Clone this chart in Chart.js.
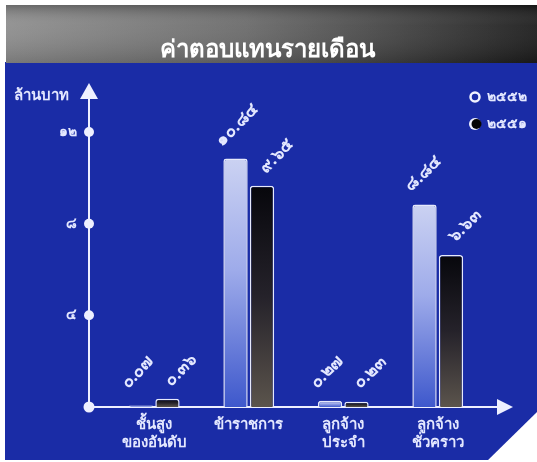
<!DOCTYPE html>
<html lang="th">
<head>
<meta charset="utf-8">
<title>ค่าตอบแทนรายเดือน</title>
<script src="https://cdn.jsdelivr.net/npm/chart.js@4.4.1/dist/chart.umd.min.js"></script>
<style>
  html, body { margin: 0; padding: 0; background: #fff; }
  #wrap { width: 537px; height: 462px; }
</style>
</head>
<body>
<div id="wrap"><canvas id="chart" width="537" height="462"></canvas></div>
<script>
// ========== data ==========
const TITLE = "ค่าตอบแทนรายเดือน";
const UNIT_LABEL = "ล้านบาท";
const CATEGORIES = [["ชั้นสูง", "ของอันดับ"], ["ข้าราชการ"], ["ลูกจ้าง", "ประจำ"], ["ลูกจ้าง", "ชั่วคราว"]];
const YEARS = ["๒๕๕๒", "๒๕๕๑"];
const VALUES_2552 = [0.07, 10.84, 0.27, 8.84];
const VALUES_2551 = [0.36, 9.65, 0.23, 6.63];
const Y_TICKS = [0, 4, 8, 12];
const Y_MAX = 12;

// ========== helpers ==========
const FONT = "'Noto Sans', 'DejaVu Sans', sans-serif";
const TEXT_COLOR = "#e4e8ff";
const BLUE_BG = "#1a2ca6";
const THAI_DIGITS = "๐๑๒๓๔๕๖๗๘๙";
const thaiNum = (s) => String(s).replace(/[0-9]/g, (d) => THAI_DIGITS[d]);

function barFill(stops) {
  return (c) => {
    const chart = c.chart;
    if (!chart.chartArea || c.raw == null) return stops[0][1];
    const y = chart.scales.y;
    const top = y.getPixelForValue(c.raw);
    const bottom = y.getPixelForValue(0);
    const g = chart.ctx.createLinearGradient(0, top, 0, Math.max(bottom, top + 1));
    stops.forEach(([p, col]) => g.addColorStop(p, col));
    return g;
  };
}

// ========== plugins ==========
const backdrop = {
  id: "backdrop",
  beforeDraw(chart) {
    const { ctx, width, height } = chart;
    ctx.save();
    ctx.fillStyle = "#fff";
    ctx.fillRect(0, 0, width, height);
    // blue panel
    ctx.fillStyle = BLUE_BG;
    ctx.fillRect(5, 62, width - 5, 398);
    // gray header band
    const gh = ctx.createLinearGradient(5, 0, width, 0);
    gh.addColorStop(0, "#8e8e8e");
    gh.addColorStop(0.45, "#6a6a6a");
    gh.addColorStop(1, "#1c1c1c");
    ctx.fillStyle = gh;
    ctx.fillRect(6, 5, width - 6, 58);
    const gv = ctx.createLinearGradient(0, 5, 0, 63);
    gv.addColorStop(0, "rgba(0,0,0,0.25)");
    gv.addColorStop(0.35, "rgba(255,255,255,0.06)");
    gv.addColorStop(1, "rgba(0,0,0,0.15)");
    ctx.fillStyle = gv;
    ctx.fillRect(6, 5, width - 6, 58);
    // white corner cut
    ctx.fillStyle = "#fff";
    ctx.beginPath();
    ctx.moveTo(486, height);
    ctx.lineTo(width, 412);
    ctx.lineTo(width, height);
    ctx.closePath();
    ctx.fill();
    // title
    ctx.fillStyle = "#fff";
    ctx.font = "600 24px " + FONT;
    ctx.textAlign = "center";
    ctx.textBaseline = "middle";
    ctx.fillText(TITLE, 267, 50);
    // unit label
    ctx.fillStyle = TEXT_COLOR;
    ctx.font = "bold 15px " + FONT;
    ctx.textAlign = "left";
    ctx.fillText(UNIT_LABEL, 14, 96);
    ctx.restore();
  },
};

const axes = {
  id: "axes",
  beforeDatasetsDraw(chart) {
    const { ctx, scales } = chart;
    const x0 = 89;
    const y0 = scales.y.getPixelForValue(0);
    ctx.save();
    ctx.strokeStyle = "#eef0ff";
    ctx.fillStyle = "#eef0ff";
    ctx.lineWidth = 2;
    ctx.beginPath();
    ctx.moveTo(x0, y0);
    ctx.lineTo(x0, 96);
    ctx.moveTo(x0, y0);
    ctx.lineTo(498, y0);
    ctx.stroke();
    // arrow heads
    ctx.beginPath();
    ctx.moveTo(x0, 83);
    ctx.lineTo(x0 - 9, 99);
    ctx.lineTo(x0 + 9, 99);
    ctx.closePath();
    ctx.fill();
    ctx.beginPath();
    ctx.moveTo(513, y0);
    ctx.lineTo(497, y0 - 8);
    ctx.lineTo(497, y0 + 8);
    ctx.closePath();
    ctx.fill();
    // tick dots
    Y_TICKS.forEach((v) => {
      ctx.beginPath();
      ctx.arc(x0, scales.y.getPixelForValue(v), v === 0 ? 5.5 : 5, 0, Math.PI * 2);
      ctx.fill();
    });
    ctx.restore();
  },
};

const valueLabels = {
  id: "valueLabels",
  afterDatasetsDraw(chart) {
    const { ctx } = chart;
    ctx.save();
    ctx.fillStyle = TEXT_COLOR;
    ctx.font = "bold 17px " + FONT;
    ctx.textAlign = "left";
    ctx.textBaseline = "alphabetic";
    chart.data.datasets.forEach((ds, i) => {
      chart.getDatasetMeta(i).data.forEach((bar, j) => {
        const left = bar.x - bar.width / 2 + (i === 0 ? -1 : 16);
        const y = Math.min(bar.y, bar.base - 6) - 12;
        ctx.save();
        ctx.translate(left, y);
        ctx.rotate(-Math.PI / 4);
        ctx.fillText(thaiNum(ds.data[j].toFixed(2)), 0, 0);
        ctx.restore();
      });
    });
    ctx.restore();
  },
};

const yearLegend = {
  id: "yearLegend",
  afterDraw(chart) {
    const { ctx } = chart;
    ctx.save();
    ctx.font = "bold 14px " + FONT;
    ctx.textBaseline = "middle";
    ctx.textAlign = "left";
    chart.data.datasets.forEach((ds, i) => {
      const cy = 97 + i * 27;
      const cx = 475;
      if (i === 0) {
        ctx.strokeStyle = "#f0f2ff";
        ctx.lineWidth = 2.5;
        ctx.beginPath();
        ctx.arc(cx, cy, 4.5, 0, Math.PI * 2);
        ctx.stroke();
      } else {
        ctx.fillStyle = "#f0f2ff";
        ctx.beginPath();
        ctx.arc(cx, cy, 6, 0, Math.PI * 2);
        ctx.fill();
        ctx.fillStyle = "#050505";
        ctx.beginPath();
        ctx.arc(cx + 1.5, cy, 5, 0, Math.PI * 2);
        ctx.fill();
      }
      ctx.fillStyle = TEXT_COLOR;
      ctx.fillText(ds.label, 487, cy);
    });
    ctx.restore();
  },
};

// ========== chart ==========
const chart = new Chart(document.getElementById("chart"), {
  type: "bar",
  data: {
    labels: CATEGORIES,
    datasets: [
      {
        label: YEARS[0],
        data: VALUES_2552,
        backgroundColor: barFill([[0, "#cbd2f2"], [0.45, "#9eabea"], [1, "#3e58cc"]]),
        borderColor: "#e6e9fb",
        borderWidth: 1.5,
        borderRadius: { topLeft: 3, topRight: 3 },
        borderSkipped: "bottom",
      },
      {
        label: YEARS[1],
        data: VALUES_2551,
        backgroundColor: barFill([[0, "#07070c"], [0.5, "#25222a"], [1, "#5b544c"]]),
        borderColor: "#e6e9fb",
        borderWidth: 1.5,
        borderRadius: { topLeft: 3, topRight: 3 },
        borderSkipped: "bottom",
      },
    ],
  },
  options: {
    responsive: false,
    animation: false,
    devicePixelRatio: 1,
    layout: { padding: { top: 132, right: 52, bottom: 0, left: 0 } },
    datasets: { bar: { barPercentage: 0.92, categoryPercentage: 0.56 } },
    plugins: { legend: { display: false }, tooltip: { enabled: false } },
    scales: {
      x: {
        grid: { display: false, drawTicks: false },
        border: { display: false },
        ticks: { color: TEXT_COLOR, font: { family: FONT, size: 15, weight: "bold" }, padding: 9, maxRotation: 0 },
        afterFit: (s) => { s.height = 55; },
      },
      y: {
        min: 0,
        max: Y_MAX,
        grid: { display: false, drawTicks: false },
        border: { display: false },
        afterBuildTicks: (s) => { s.ticks = Y_TICKS.map((v) => ({ value: v })); },
        ticks: {
          color: TEXT_COLOR,
          font: { family: FONT, size: 14, weight: "bold" },
          padding: 30,
          callback: (v) => (v === 0 ? "" : thaiNum(v)),
        },
        afterFit: (s) => { s.width = 107; },
      },
    },
  },
  plugins: [backdrop, axes, valueLabels, yearLegend],
});
</script>
</body>
</html>
